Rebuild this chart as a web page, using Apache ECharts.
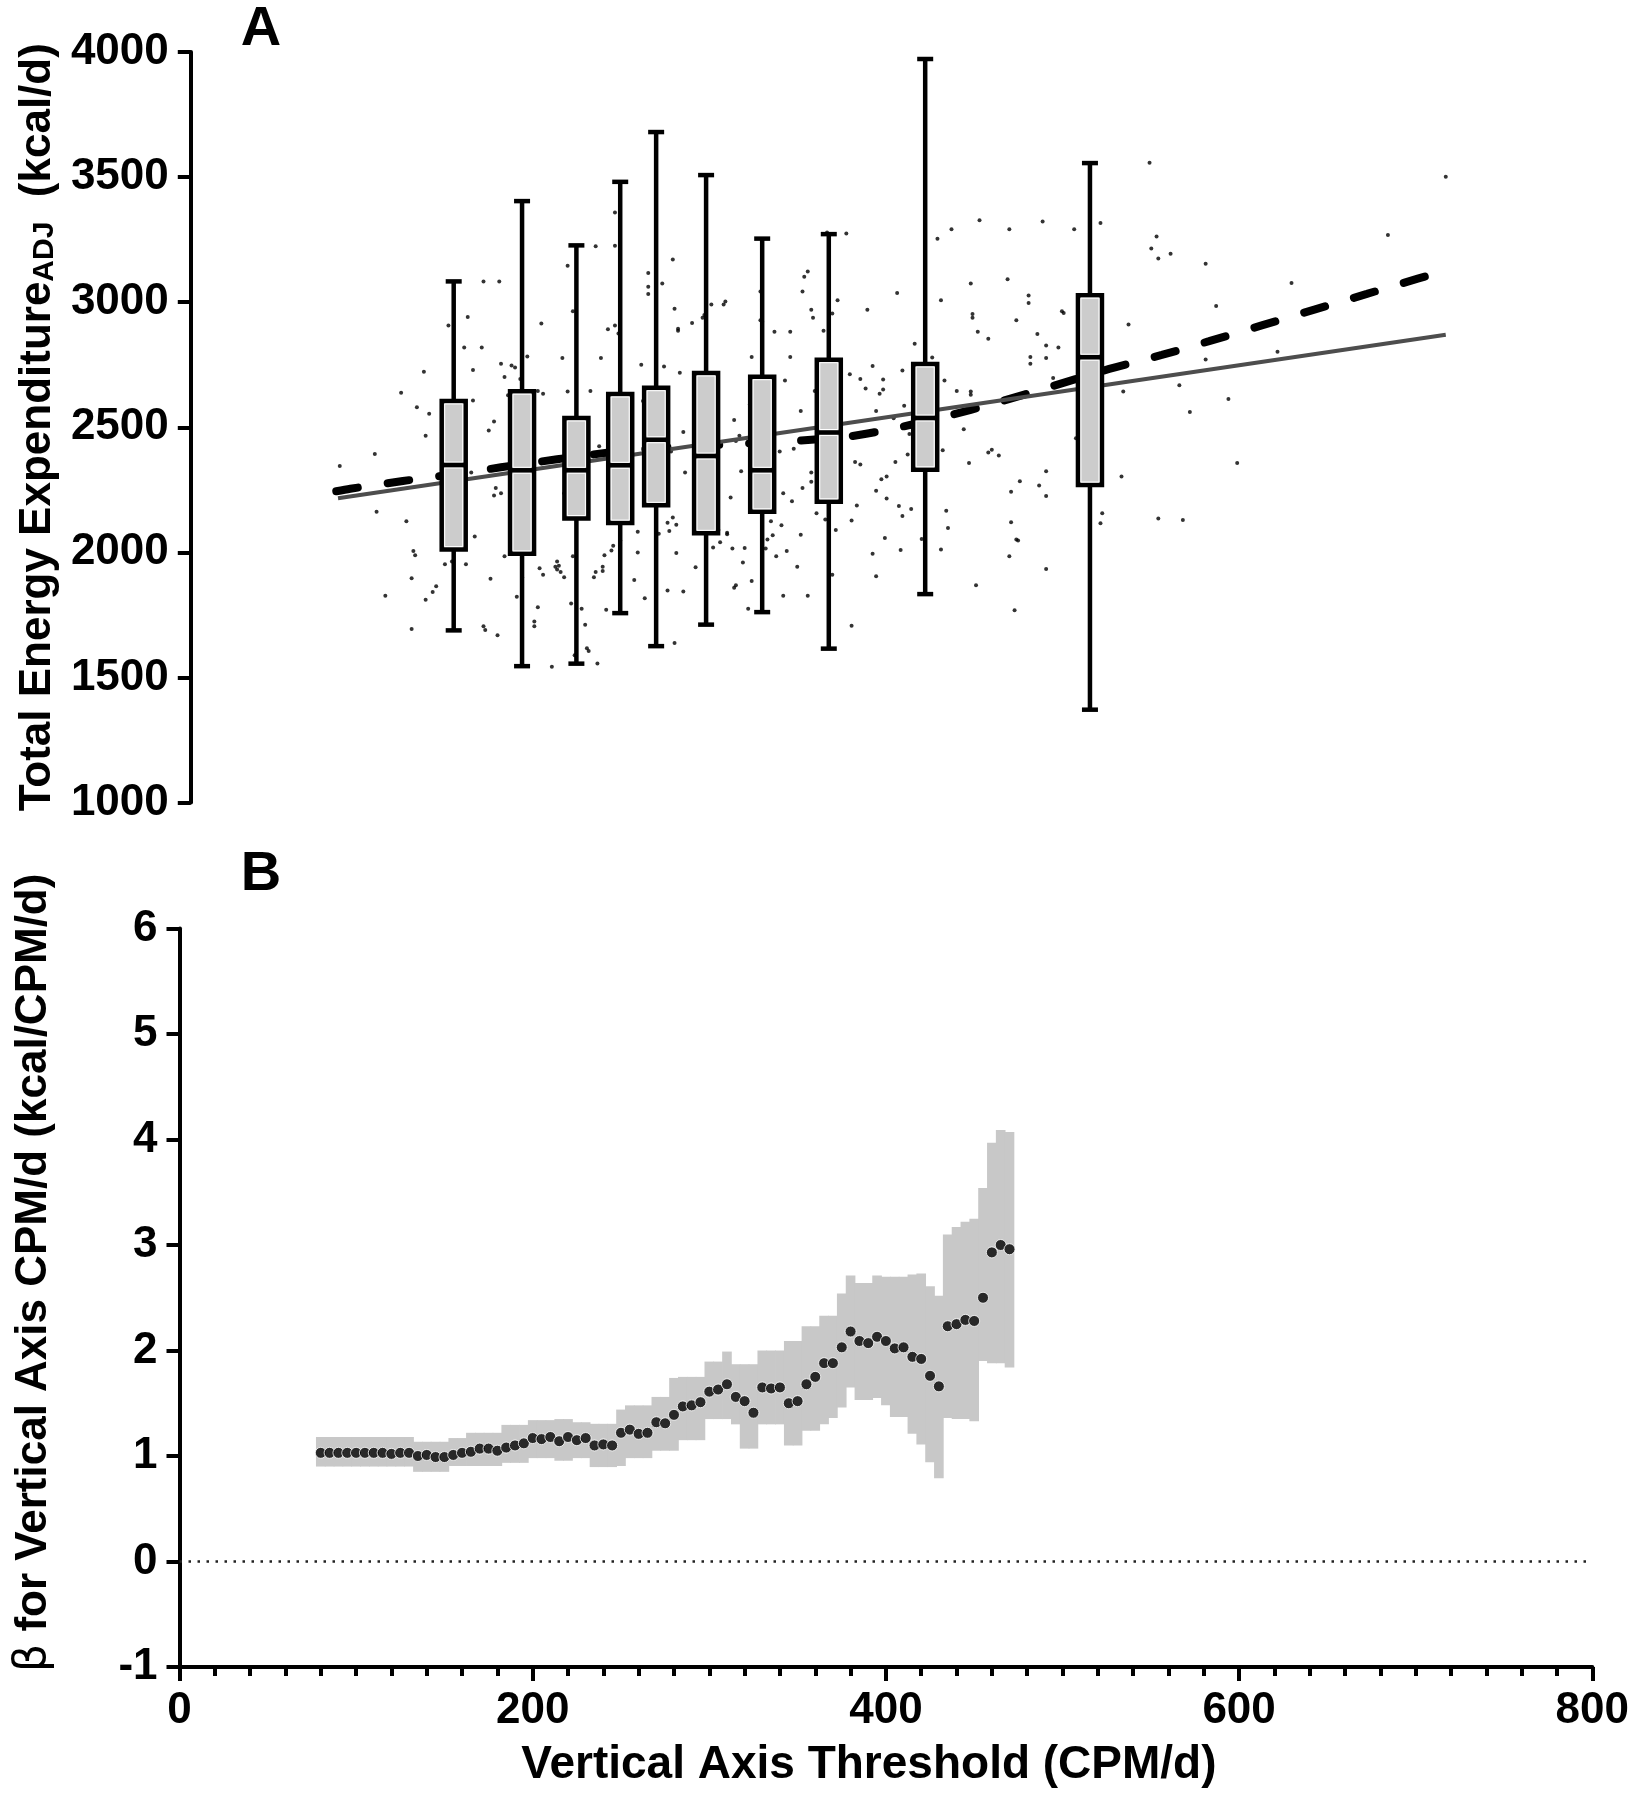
<!DOCTYPE html>
<html>
<head>
<meta charset="utf-8">
<script src="https://cdn.jsdelivr.net/npm/echarts@6/dist/echarts.min.js"></script>
<style>html,body{margin:0;padding:0;background:#fff}#c{width:1632px;height:1800px}</style>
</head>
<body>
<div id="c"></div>
<script>
// ---------- Panel A data ----------
const boxX   = [150, 189, 220, 245, 265.5, 294, 326, 364, 419, 513];
const boxMin = [1688, 1545, 1555, 1757, 1625, 1711, 1761, 1615, 1833, 1371];
const boxQ1  = [2011, 1994, 2135, 2117, 2188, 2076, 2162, 2202, 2330, 2269];
const boxMed = [2349, 2328, 2328, 2348, 2450, 2385, 2328, 2479, 2537, 2780];
const boxQ3  = [2605, 2644, 2537, 2633, 2658, 2717, 2702, 2770, 2753, 3028];
const boxMax = [3083, 3404, 3227, 3481, 3680, 3508, 3254, 3272, 3972, 3556];

const scatterPts = [
[85,2345],[105,2393],[106,2162],[111,1826],[120,2638],[123,2124],[126,1896],[126,1694],[127,2005],[128,1988],
[129,2580],[133,2722],[134,2466],[134,1810],[136,2554],[138,1841],[140,1864],[144,2588],[147,2907],[145,1952],
[149,1963],[156,2819],[158,2941],[157,1952],[160,2319],[162,2063],[161,2607],[161,2729],[166,2819],[167,3083],
[167,1705],[168,1690],[170,2487],[171,1894],[173,2227],[173,2523],[174,2257],[175,1669],[176,3083],[177,2236],
[177,2754],[178,2343],[179,2701],[179,1984],[181,2628],[183,2747],[185,2739],[186,1822],[188,2693],[189,1900],
[192,2783],[196,1724],[196,1705],[198,2645],[198,1780],[199,1936],[200,2915],[201,1910],[201,2634],[206,1543],
[208,1942],[209,1963],[209,1931],[210,1946],[211,1921],[212,2777],[213,1900],[213,2236],[214,2391],[215,2643],
[215,3146],[217,1795],[218,2964],[218,1984],[219,1589],[223,1774],[225,1711],[226,1617],[227,1606],[228,2645],
[230,1900],[231,1921],[231,3224],[232,1556],[233,2424],[234,2777],[235,1942],[235,1925],[236,1988],[237,1770],
[238,2892],[240,2007],[241,2026],[242,3358],[242,3226],[242,2907],[244,2875],[244,2609],[245,2231],[245,2047],
[253,1889],[255,1999],[255,2082],[257,2750],[258,2605],[259,1816],[261,3062],[261,3117],[261,3033],[262,2655],
[263,2630],[267,2074],[269,3075],[270,2743],[271,2397],[272,1847],[272,2118],[273,2085],[274,2403],[275,3171],
[275,2139],[276,2974],[276,1638],[277,1997],[277,2110],[278,2894],[278,2886],[279,2718],[281,1843],[281,2481],
[282,2319],[286,2917],[288,1940],[288,2091],[289,2655],[291,2225],[292,2938],[292,2080],[293,2949],[294,2183],
[297,2991],[298,2019],[300,2145],[301,2089],[302,2040],[304,2991],[305,3003],[306,2078],[306,2072],[308,2219],
[309,2015],[310,1858],[310,2529],[311,2445],[311,1868],[313,2466],[314,2324],[315,1959],[316,2017],[318,1774],
[319,2592],[320,1885],[320,2781],[325,3043],[325,2928],[326,2922],[328,2015],[329,2051],[331,2124],[332,2068],
[333,2882],[334,1984],[336,2403],[337,2108],[338,1826],[338,2236],[339,2687],[340,2005],[342,2781],[342,2882],
[343,2204],[344,2414],[346,1942],[348,2070],[348,2565],[349,3043],[349,2257],[350,3102],[352,1826],[352,3123],
[354,2970],[356,2645],[358,2739],[361,2886],[361,2292],[362,2131],[363,3278],
[355,2938],[354,2319],[354,2282],[357,2156],[366,2955],[366,1910],[368,2089],[369,3008],[374,3274],[376,2712],
[377,1707],[377,2127],[379,2361],[380,2187],[382,2693],[382,2351],[385,2655],[386,2970],[389,2745],[389,1994],
[391,2565],[391,2246],[391,1904],[393,2634],[394,2292],[395,2651],[395,2691],[396,2057],[397,2303],[397,2215],
[401,2536],[402,2361],[403,3037],[404,2185],[405,2009],[406,2145],[406,2727],[407,2586],[409,2391],[410,2473],
[411,2173],[413,2834],[415,2676],[417,2053],[423,2779],[426,3253],[428,3008],[428,2011],[429,2408],[430,2687],
[431,2166],[432,2097],[434,3291],[437,2645],[441,2492],[444,2357],[445,2643],[445,2630],[445,3075],[446,2938],
[446,2953],[448,1868],[449,2882],[450,3327],[455,2854],[455,2399],[457,2410],[461,2387],[466,3092],[467,3291],
[467,1984],[468,2120],[468,2242],[470,1768],[471,2928],[471,2051],[472,2047],[473,2284],[478,2997],[478,3027],
[479,2781],[479,2754],[483,2873],[484,2267],[486,3322],[488,2777],[488,2827],[488,2225],[488,1933],[488,2324],
[492,2697],[495,2819],[497,2964],[498,2957],[504,3291],[505,2456],[519,3316],[519,2116],[520,2156],[531,2303],
[532,2643],[535,2911],[547,3557],[548,3215],[551,3262],[552,2135],[552,3175],[559,3194],[564,2668],[566,2129],
[570,2561],[579,3154],[579,2771],[585,2985],[592,2613],[597,2357],[620,2802],[628,3077],[683,3268],[716,3501]
];

const fitSolidX = [84, 716];
const fitSolidY = [2216, 2870];
const fitDashX = [83, 91, 121, 161, 177, 209, 240, 279, 309, 340, 372, 399, 431, 459, 490, 524, 554, 581, 611, 641, 671, 700, 712];
const fitDashY = [2244, 2254, 2285, 2323, 2340, 2372, 2400, 2423, 2432, 2444, 2460, 2492, 2544, 2597, 2661, 2733, 2789, 2844, 2907, 2970, 3033, 3094, 3118];

// ---------- Panel B data ----------
const betaX = [80,85,90,95,100,105,110,115,120,125,130,135,140,145,150,155,160,165,170,175,
               180,185,190,195,200,205,210,215,220,225,230,235,240,245,250,255,260,265,270,275,
               280,285,290,295,300,305,310,315,320,325,330,335,340,345,350,355,360,365,370,375,
               380,385,390,395,400,405,410,415,420,425,430,435,440,445,450,455,460,465,470];
const betaY = [1.03,1.03,1.03,1.03,1.03,1.03,1.03,1.03,1.02,1.03,1.03,1.00,1.01,0.99,0.99,1.01,1.03,1.04,1.07,1.07,
               1.05,1.08,1.10,1.12,1.17,1.16,1.18,1.14,1.18,1.15,1.17,1.10,1.11,1.10,1.22,1.25,1.21,1.22,1.32,1.31,
               1.39,1.47,1.48,1.51,1.61,1.63,1.68,1.56,1.52,1.41,1.65,1.64,1.65,1.50,1.52,1.68,1.75,1.88,1.88,2.03,
               2.18,2.09,2.07,2.13,2.09,2.02,2.03,1.94,1.92,1.76,1.66,2.23,2.25,2.29,2.28,2.50,2.93,3.00,2.96];
const betaLow = [0.90,0.90,0.90,0.90,0.90,0.90,0.90,0.90,0.90,0.90,0.90,0.85,0.85,0.85,0.85,0.905,0.905,0.905,0.905,0.905,
                 0.905,0.935,0.935,0.935,0.98,0.98,0.98,0.955,0.955,0.98,0.98,0.895,0.895,0.895,0.905,0.98,0.98,0.98,1.05,1.05,
                 1.05,1.15,1.15,1.15,1.35,1.35,1.35,1.30,1.07,1.07,1.30,1.30,1.30,1.10,1.10,1.24,1.24,1.30,1.36,1.46,
                 1.65,1.53,1.53,1.55,1.48,1.37,1.37,1.21,1.11,0.94,0.79,1.36,1.35,1.35,1.33,1.90,1.88,1.88,1.84];
const betaHigh = [1.18,1.18,1.18,1.18,1.18,1.18,1.18,1.18,1.18,1.18,1.18,1.135,1.135,1.135,1.135,1.17,1.17,1.22,1.22,1.22,
                  1.22,1.295,1.295,1.295,1.34,1.34,1.34,1.35,1.35,1.32,1.32,1.305,1.305,1.305,1.44,1.48,1.48,1.48,1.56,1.56,
                  1.74,1.75,1.75,1.75,1.895,1.895,1.99,1.87,1.87,1.87,2.00,2.00,2.00,2.09,2.09,2.23,2.23,2.33,2.33,2.54,
                  2.71,2.64,2.64,2.71,2.70,2.70,2.70,2.72,2.73,2.61,2.52,3.10,3.17,3.22,3.25,3.54,3.97,4.09,4.07];
const zeroLineX = [0, 797];

// ---------- Chart ----------
const FONT = "'Liberation Sans', Arial, Helvetica, sans-serif";
const BLACK = '#000';
const chart = echarts.init(document.getElementById('c'), null, {renderer: 'canvas', width: 1632, height: 1800});

const labelStyle = {fontSize: 44, fontWeight: 'bold', fontFamily: FONT, color: BLACK};
const lineW = {color: BLACK, width: 4};

const option = {
  animation: false,
  backgroundColor: '#fff',
  grid: [
    {left: 179.5, width: 1413.5, top: 52, height: 750.5, containLabel: false},
    {left: 179.5, width: 1413.5, top: 928.5, height: 738.5, containLabel: false}
  ],
  xAxis: [
    {gridIndex: 0, type: 'value', min: 0, max: 800, show: false},
    {gridIndex: 1, type: 'value', min: 0, max: 800, interval: 200,
      axisLine: {show: true, onZero: false, lineStyle: lineW},
      axisTick: {show: true, length: 14, lineStyle: lineW},
      minorTick: {show: true, splitNumber: 10, length: 9, lineStyle: lineW},
      splitLine: {show: false},
      axisLabel: Object.assign({margin: 22, formatter: v => String(v)}, labelStyle),
      name: 'Vertical Axis Threshold (CPM/d)', nameLocation: 'middle', nameGap: 75,
      nameTextStyle: {fontSize: 46, fontWeight: 'bold', fontFamily: FONT, color: BLACK, padding: [0, 34, 0, 0]}
    }
  ],
  yAxis: [
    {gridIndex: 0, type: 'value', min: 1000, max: 4000, interval: 500,
      axisLine: {show: true, onZero: false, lineStyle: lineW},
      axisTick: {show: true, length: 13, lineStyle: lineW},
      splitLine: {show: false},
      axisLabel: Object.assign({margin: 22, formatter: v => String(v)}, labelStyle),
      name: 'Total Energy Expenditure{sub|ADJ}  (kcal/d)', nameLocation: 'middle', nameGap: 126,
      nameTextStyle: {fontSize: 44, fontWeight: 'bold', fontFamily: FONT, color: BLACK, lineHeight: 44,
        rich: {sub: {fontSize: 30, fontWeight: 'bold', fontFamily: FONT, color: BLACK, lineHeight: 30,
          verticalAlign: 'bottom', padding: [22, 0, 0, 0]}}}
    },
    {gridIndex: 1, type: 'value', min: -1, max: 6, interval: 1,
      axisLine: {show: true, onZero: false, lineStyle: lineW},
      axisTick: {show: true, length: 13, lineStyle: lineW},
      splitLine: {show: false},
      axisLabel: Object.assign({margin: 22, formatter: v => String(v)}, labelStyle),
      name: '{beta|β} for Vertical Axis CPM/d (kcal/CPM/d)', nameLocation: 'middle', nameGap: 124,
      nameTextStyle: {fontSize: 44, fontWeight: 'bold', fontFamily: FONT, color: BLACK, padding: [0, 0, 0, 50],
        rich: {beta: {fontSize: 44, fontWeight: 'normal', fontFamily: "'DejaVu Sans', sans-serif", color: BLACK}}}
    }
  ],
  graphic: [
    {type: 'text', x: 261, y: 30, style: {text: 'A', fontSize: 56, fontWeight: 'bold', fontFamily: FONT, fill: BLACK, align: 'center', verticalAlign: 'middle', textAlign: 'center', textVerticalAlign: 'middle'}},
    {type: 'text', x: 261, y: 875, style: {text: 'B', fontSize: 56, fontWeight: 'bold', fontFamily: FONT, fill: BLACK, align: 'center', verticalAlign: 'middle', textAlign: 'center', textVerticalAlign: 'middle'}}
  ],
  series: [
    // scatter points, panel A
    {type: 'scatter', xAxisIndex: 0, yAxisIndex: 0, z: 1, symbol: 'circle', symbolSize: 4,
      itemStyle: {color: BLACK}, data: scatterPts, silent: true},
    // dashed fit
    {type: 'line', xAxisIndex: 0, yAxisIndex: 0, z: 2, symbol: 'none', smooth: 0.3,
      data: fitDashX.map((x, i) => [x, fitDashY[i]]),
      lineStyle: {color: BLACK, width: 8, type: [22, 30], cap: 'round'}},
    // solid fit
    {type: 'line', xAxisIndex: 0, yAxisIndex: 0, z: 3, symbol: 'none',
      data: fitSolidX.map((x, i) => [x, fitSolidY[i]]),
      lineStyle: {color: '#4d4d4d', width: 4}},
    // box plots
    {type: 'custom', xAxisIndex: 0, yAxisIndex: 0, z: 4,
      data: boxX.map((x, i) => [x, boxMin[i], boxQ1[i], boxMed[i], boxQ3[i], boxMax[i]]),
      encode: {x: 0, y: [1, 2, 3, 4, 5]},
      renderItem: function (params, api) {
        const x = api.value(0);
        const pMin = api.coord([x, api.value(1)]);
        const pQ1 = api.coord([x, api.value(2)]);
        const pMed = api.coord([x, api.value(3)]);
        const pQ3 = api.coord([x, api.value(4)]);
        const pMax = api.coord([x, api.value(5)]);
        const cx = pMin[0];
        const hw = 12;
        const cap = 8;
        const ln = {stroke: BLACK, lineWidth: 4.5};
        return {type: 'group', children: [
          {type: 'line', shape: {x1: cx, y1: pMax[1], x2: cx, y2: pMin[1]}, style: ln},
          {type: 'line', shape: {x1: cx - cap, y1: pMax[1], x2: cx + cap, y2: pMax[1]}, style: ln},
          {type: 'line', shape: {x1: cx - cap, y1: pMin[1], x2: cx + cap, y2: pMin[1]}, style: ln},
          {type: 'rect', shape: {x: cx - hw, y: pQ3[1], width: 2 * hw, height: pQ1[1] - pQ3[1]},
            style: {fill: '#cccccc', stroke: BLACK, lineWidth: 4.5}},
          {type: 'rect', shape: {x: cx - hw + 3, y: pQ3[1] + 3, width: 2 * hw - 6, height: pMed[1] - pQ3[1] - 6},
            style: {fill: 'none', stroke: '#fff', lineWidth: 1}},
          {type: 'rect', shape: {x: cx - hw + 3, y: pMed[1] + 3, width: 2 * hw - 6, height: pQ1[1] - pMed[1] - 6},
            style: {fill: 'none', stroke: '#fff', lineWidth: 1}},
          {type: 'line', shape: {x1: cx - hw, y1: pMed[1], x2: cx + hw, y2: pMed[1]}, style: {stroke: BLACK, lineWidth: 4.5}}
        ]};
      }
    },
    // CI band, panel B
    {type: 'custom', xAxisIndex: 1, yAxisIndex: 1, z: 1,
      data: betaX.map((x, i) => [x, betaLow[i], betaHigh[i]]),
      encode: {x: 0, y: [1, 2]},
      renderItem: function (params, api) {
        const x = api.value(0);
        const p1 = api.coord([x - 2.5, api.value(2)]);
        const p2 = api.coord([x + 2.5, api.value(1)]);
        return {type: 'rect', shape: {x: p1[0] - 0.4, y: p1[1], width: p2[0] - p1[0] + 0.8, height: p2[1] - p1[1]},
          style: {fill: '#c8c8c8'}};
      }
    },
    // zero reference line
    {type: 'line', xAxisIndex: 1, yAxisIndex: 1, z: 2, symbol: 'none',
      data: zeroLineX.map(x => [x, 0]),
      lineStyle: {color: '#222', width: 2.5, type: [2.5, 6.5]}},
    // beta points
    {type: 'scatter', xAxisIndex: 1, yAxisIndex: 1, z: 3, symbol: 'circle', symbolSize: 11,
      itemStyle: {color: BLACK, borderColor: '#fff', borderWidth: 1},
      data: betaX.map((x, i) => [x, betaY[i]])}
  ]
};
chart.setOption(option);
</script>
</body>
</html>
